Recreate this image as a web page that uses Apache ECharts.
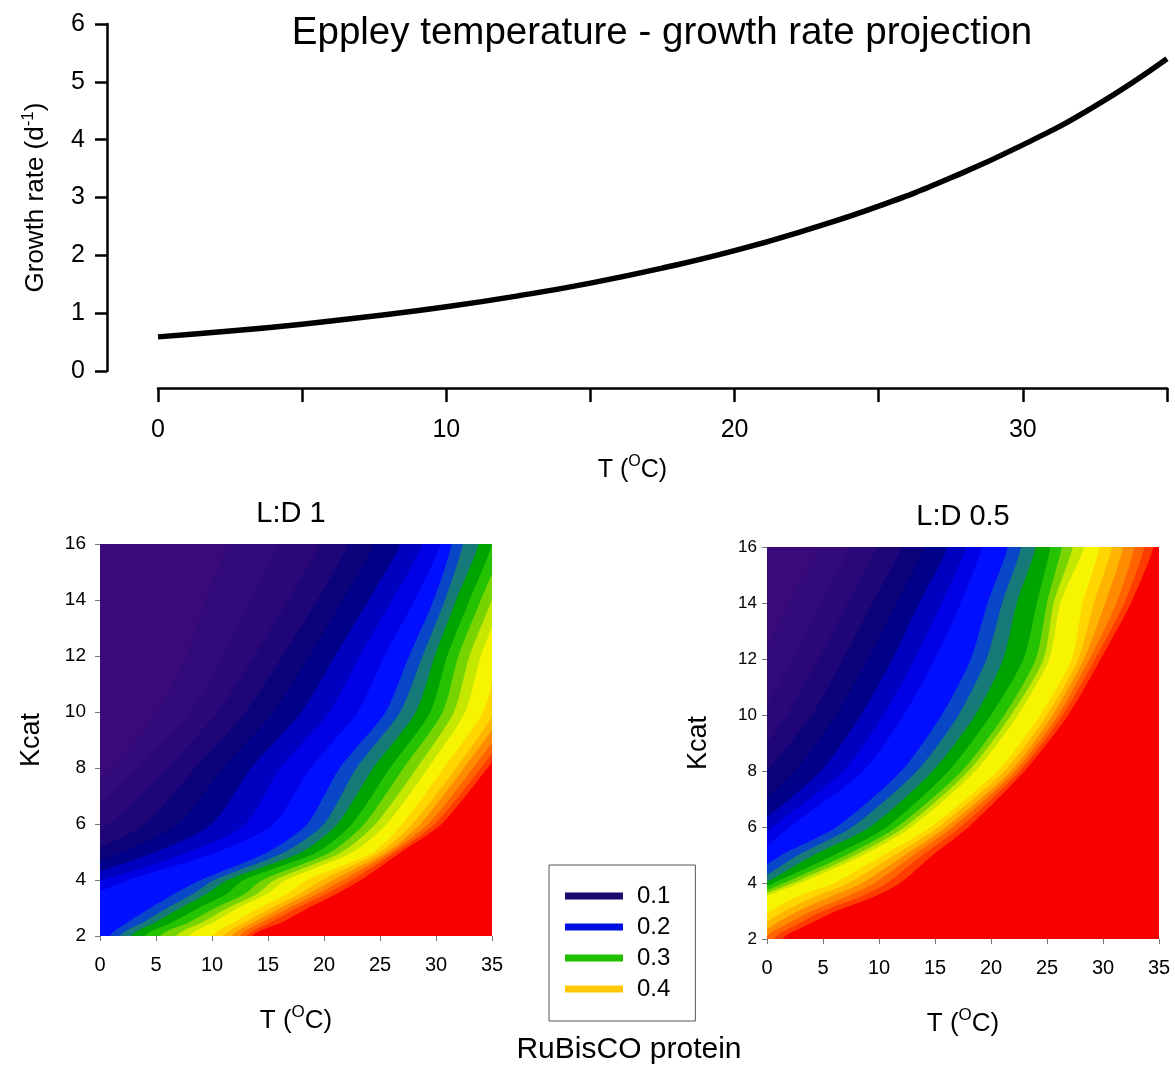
<!DOCTYPE html>
<html>
<head>
<meta charset="utf-8">
<script src="https://cdn.jsdelivr.net/npm/echarts@6/dist/echarts.min.js"></script>
<style>
html,body{margin:0;padding:0;background:#fff;}
#chart{width:1175px;height:1068px;}
</style>
</head>
<body>
<div id="chart"></div>
<script>
// ---------- Top panel: Eppley growth curve ----------
const eppleyTemps = [0, 2.5, 5, 7.5, 10, 12.5, 15, 17.5, 20, 22.5, 25, 27.5, 30, 32.5, 35];
const eppleyGrowth = [0.59, 0.69, 0.81, 0.95, 1.11, 1.30, 1.52, 1.78, 2.08, 2.44, 2.85, 3.34, 3.91, 4.58, 5.40];
const growthTicks = [0, 1, 2, 3, 4, 5, 6];
const tempTicksTop = [0, 10, 20, 30];

// ---------- Bottom panels: contour boundaries ----------
// Kcat rows at which the temperature of each contour boundary was read
const kcatRows = [2, 2.5, 3, 3.5, 4, 5, 6, 8, 10, 12, 14, 16];
// band colours, lowest (top-left) to highest (bottom-right)
const bandColors = ['#3b0a7a', '#330a7a', '#2a0878', '#1e0678', '#0c027a', '#000088', '#0000c0',
  '#0000e6', '#0010ff', '#0a46c8', '#157a78', '#00a400', '#24c200', '#78d400', '#c6e800',
  '#f6f400', '#ffd600', '#ffb400', '#ff8c00', '#ff6400', '#ff3c00', '#f80000'];

// L:D 1 — temperature (°C) of boundary i (band i -> band i+1) at each Kcat row
const ld1Bounds = [
  [-26, -23, -20, -17, -14, -9, -5, 1.0, 5.0, 7.7, 9.4, 11.3],
  [-24, -21, -18, -15, -12, -7, -2.5, 3.5, 8.0, 11.0, 13.5, 15.8],
  [-22, -19, -16, -13, -10, -4, 0.8, 6.0, 10.5, 13.8, 16.8, 19.6],
  [-20, -17, -14, -11, -8, -1, 4.0, 8.5, 13.0, 16.3, 19.4, 22.1],
  [-18, -15, -12, -9, -5, 2.0, 7.0, 11.0, 15.5, 18.7, 21.7, 24.4],
  [-16, -13, -10, -7, -2.5, 5.0, 10.0, 13.5, 18.0, 21.0, 24.0, 26.8],
  [-14, -11, -8, -5, 0.3, 8.0, 13.0, 16.1, 20.5, 23.2, 26.1, 28.8],
  [-7, -5, -3, -0.5, 2.5, 10.5, 15.5, 18.8, 23.0, 25.4, 28.1, 30.4],
  [0.9, 2.5, 4.5, 6.6, 9.0, 15.0, 18.5, 21.4, 25.5, 27.6, 29.8, 31.4],
  [1.8, 3.9, 6.0, 8.3, 10.2, 16.5, 20.0, 22.9, 26.8, 28.8, 30.8, 32.4],
  [2.8, 5.0, 7.2, 9.5, 11.4, 18.0, 21.2, 24.4, 28.2, 29.9, 31.8, 33.8],
  [4.0, 6.5, 8.8, 11.3, 12.8, 19.4, 22.5, 25.9, 29.5, 31.0, 33.0, 35.0],
  [5.4, 8.0, 10.3, 12.9, 14.5, 20.6, 23.6, 27.1, 30.6, 32.0, 34.0, 36.0],
  [6.8, 9.2, 11.4, 14.0, 15.6, 21.6, 24.6, 28.3, 31.6, 33.0, 35.0, 37.0],
  [8.0, 10.2, 12.3, 14.9, 16.6, 22.6, 25.6, 29.3, 32.6, 34.0, 36.0, 38.0],
  [10.0, 12.0, 14.2, 16.7, 18.5, 24.4, 27.0, 30.7, 34.2, 35.6, 37.5, 39.5],
  [11.0, 13.0, 15.3, 17.8, 19.8, 25.0, 27.9, 31.8, 35.2, 36.6, 38.5, 40.5],
  [11.8, 13.8, 16.1, 18.6, 20.8, 25.6, 28.6, 32.5, 36.0, 37.5, 39.4, 41.4],
  [12.5, 14.5, 16.9, 19.4, 21.7, 26.0, 29.3, 33.3, 36.8, 38.4, 40.3, 42.3],
  [13.1, 15.3, 17.6, 20.2, 22.5, 26.4, 29.9, 34.0, 37.6, 39.3, 41.2, 43.2],
  [13.6, 16.3, 18.6, 21.1, 23.3, 26.9, 30.5, 34.6, 38.5, 40.3, 42.2, 44.2]
];

// L:D 0.5
const ld05Bounds = [
  [-30, -28, -26, -24, -22, -18, -14, -8, -3.5, -0.5, 2.0, 4.5],
  [-26, -24, -22, -20, -18, -14, -10, -4, -0.5, 2.2, 4.8, 7.4],
  [-23, -21, -19, -17, -15, -11, -7, -2, 1.8, 4.6, 7.2, 9.8],
  [-20, -18, -16, -14, -12, -8, -4.5, 0.0, 4.0, 6.8, 9.4, 12.0],
  [-18, -16, -14, -12, -10, -6, -3, 2.5, 6.2, 9.0, 11.6, 14.0],
  [-16, -14, -12, -10, -8, -4, -1, 4.8, 8.4, 11.2, 13.6, 16.1],
  [-14, -12, -10, -8, -6, -2.5, 0.5, 6.8, 10.4, 13.2, 15.6, 17.8],
  [-12, -10, -8, -6, -4, -1, 2.0, 8.6, 12.2, 15.0, 17.3, 19.2],
  [-11, -9, -7, -5, -2.5, 1.3, 6.2, 12.0, 15.6, 18.2, 19.7, 21.5],
  [-10, -8, -6, -4, -1.2, 2.8, 7.6, 13.4, 17.1, 19.6, 21.0, 22.7],
  [-9, -7, -5, -3, -0.2, 4.2, 9.2, 14.8, 18.6, 21.1, 22.3, 24.0],
  [-8, -6, -4.2, -2.2, 0.6, 6.0, 10.7, 16.2, 20.0, 22.9, 24.1, 25.3],
  [-7, -5.2, -3.6, -1.4, 1.5, 7.1, 11.6, 17.4, 21.2, 24.0, 25.0, 26.3],
  [-6, -4.5, -3.0, -0.8, 2.3, 7.9, 12.3, 18.0, 21.8, 24.7, 25.6, 27.3],
  [-5, -3.8, -2.5, -0.3, 3.0, 8.6, 12.9, 18.6, 22.4, 25.2, 26.2, 28.3],
  [-3, -1.2, 0.4, 2.6, 6.0, 10.4, 14.6, 20.6, 24.4, 27.2, 28.2, 29.7],
  [-2, -0.4, 1.6, 4.2, 7.3, 11.4, 15.3, 21.2, 25.0, 27.8, 29.2, 30.8],
  [-1, 0.6, 2.8, 5.6, 8.5, 12.3, 16.0, 21.8, 25.5, 28.3, 30.2, 31.8],
  [-0.2, 1.6, 4.0, 7.0, 9.6, 13.1, 16.6, 22.2, 26.0, 28.8, 31.2, 32.8],
  [0.6, 2.6, 5.0, 8.3, 10.7, 13.9, 17.3, 22.6, 26.4, 29.3, 31.9, 33.7],
  [1.4, 3.6, 6.2, 9.5, 11.9, 14.8, 18.0, 23.0, 26.9, 29.8, 32.5, 34.5]
];

// legend levels (RuBisCO protein)
const legendLevels = ['0.1', '0.2', '0.3', '0.4'];
const legendColors = ['#1c0a70', '#0010e0', '#20c000', '#ffc800'];

const FONT = 'Liberation Sans, Arial, Helvetica, sans-serif';

function tName(size, sup) {
  return {
    name: '{t|T (}{s|O}{t|C)}',
    rich: {
      t: { fontSize: size, lineHeight: size + 8, color: '#000', fontFamily: FONT },
      s: { fontSize: sup, lineHeight: sup, verticalAlign: 'top', color: '#000', fontFamily: FONT }
    }
  };
}

function contourSeries(bounds, idx) {
  const firstK = kcatRows[0];
  const lastK = kcatRows[kcatRows.length - 1];
  return {
    type: 'custom',
    xAxisIndex: idx,
    yAxisIndex: idx,
    clip: true,
    silent: true,
    z: 2,
    data: bounds.map((b, i) => [b[b.length - 1], lastK, i]),
    encode: { x: 0, y: 1 },
    renderItem: function (params, api) {
      const i = params.dataIndex;
      const b = bounds[i];
      // boundary, extended straight past the plot edges
      const pts = [api.coord([b[0], firstK - 1])];
      b.forEach((t, k) => pts.push(api.coord([t, kcatRows[k]])));
      pts.push(api.coord([b[b.length - 1], lastK + 1]));
      pts.push(api.coord([90, lastK + 1]));
      pts.push(api.coord([90, firstK - 1]));
      return {
        type: 'polygon',
        shape: { points: pts, smooth: 0.25 },
        style: { fill: bandColors[i + 1], stroke: null }
      };
    }
  };
}

const bottomXAxis = (gi, nameGap, margin) => {
  const n = tName(26, 17);
  return {
    type: 'value', gridIndex: gi, min: 0, max: 35, interval: 5,
    axisLine: { show: false, onZero: false },
    axisTick: { show: true, length: 5, lineStyle: { color: '#777', width: 1 } },
    axisLabel: { fontSize: 20, color: '#000', margin: margin, fontFamily: FONT },
    splitLine: { show: false },
    name: n.name, nameLocation: 'middle', nameGap: nameGap,
    nameTextStyle: { rich: n.rich }
  };
};
const bottomYAxis = (gi, labelSize, margin) => ({
  type: 'value', gridIndex: gi, min: 2, max: 16, interval: 2,
  axisLine: { show: false, onZero: false },
  axisTick: { show: true, length: 5, lineStyle: { color: '#777', width: 1 } },
  axisLabel: { fontSize: labelSize, color: '#000', margin: margin, fontFamily: FONT },
  splitLine: { show: false },
  name: 'Kcat', nameLocation: 'middle', nameRotate: 90, nameGap: 55,
  nameTextStyle: { fontSize: 27, color: '#000', fontFamily: FONT }
});

const topX = tName(25, 16);

const option = {
  animation: false,
  backgroundColor: '#fff',
  textStyle: { fontFamily: FONT },
  title: [
    { text: 'Eppley temperature - growth rate projection', left: 662, top: 14, textAlign: 'center', padding: 0,
      textStyle: { fontSize: 38.5, fontWeight: 'normal', color: '#000', fontFamily: FONT } },
    { text: 'L:D 1', left: 291, top: 499, textAlign: 'center', padding: 0,
      textStyle: { fontSize: 29, fontWeight: 'normal', color: '#000', fontFamily: FONT } },
    { text: 'L:D 0.5', left: 963, top: 502, textAlign: 'center', padding: 0,
      textStyle: { fontSize: 29, fontWeight: 'normal', color: '#000', fontFamily: FONT } },
    { text: 'RuBisCO protein', left: 629, top: 1035, textAlign: 'center', padding: 0,
      textStyle: { fontSize: 30, fontWeight: 'normal', color: '#000', fontFamily: FONT } }
  ],
  legend: {
    data: legendLevels,
    orient: 'vertical',
    left: 549, top: 865,
    padding: [18, 25, 19, 16],
    itemWidth: 58, itemHeight: 7, itemGap: 5,
    icon: 'rect',
    borderColor: '#555', borderWidth: 1,
    selectedMode: false,
    textStyle: { fontSize: 24, lineHeight: 26, color: '#000', padding: [0, 0, 0, 9], fontFamily: FONT }
  },
  grid: [
    { left: 158, right: 8, top: 24, bottom: 697 },
    { left: 100, right: 683, top: 544, bottom: 132, show: true, backgroundColor: bandColors[0], borderWidth: 0 },
    { left: 767, right: 16, top: 547, bottom: 129, show: true, backgroundColor: bandColors[0], borderWidth: 0 }
  ],
  xAxis: [
    {
      type: 'value', gridIndex: 0, min: 0, max: 35, interval: 5, offset: 17,
      axisLine: { show: true, onZero: false, lineStyle: { color: '#000', width: 2.5 } },
      axisTick: { show: true, length: 14, lineStyle: { color: '#000', width: 2.5 } },
      axisLabel: { fontSize: 25, color: '#000', margin: 30, fontFamily: FONT,
        formatter: v => (tempTicksTop.indexOf(v) >= 0 ? String(v) : '') },
      splitLine: { show: false },
      name: topX.name, nameLocation: 'middle', nameGap: 66,
      nameTextStyle: { rich: topX.rich, padding: [0, 60, 0, 0] }
    },
    bottomXAxis(1, 68, 19),
    bottomXAxis(2, 68, 19)
  ],
  yAxis: [
    {
      type: 'value', gridIndex: 0, min: growthTicks[0], max: growthTicks[growthTicks.length - 1], interval: 1, offset: 51,
      axisLine: { show: true, onZero: false, lineStyle: { color: '#000', width: 2.5 } },
      axisTick: { show: true, length: 12, lineStyle: { color: '#000', width: 2.5 } },
      axisLabel: { fontSize: 25, color: '#000', margin: 22, fontFamily: FONT },
      splitLine: { show: false },
      name: '{a|Growth rate (d}{b|-1}{a|)}', nameLocation: 'middle', nameRotate: 90, nameGap: 55,
      nameTextStyle: {
        rich: {
          a: { fontSize: 26, lineHeight: 32, color: '#000', fontFamily: FONT },
          b: { fontSize: 17, lineHeight: 17, verticalAlign: 'top', color: '#000', fontFamily: FONT }
        }
      }
    },
    bottomYAxis(1, 19, 14),
    bottomYAxis(2, 17, 10)
  ],
  series: [
    {
      type: 'line', xAxisIndex: 0, yAxisIndex: 0,
      data: eppleyTemps.map((t, i) => [t, eppleyGrowth[i]]),
      smooth: true, showSymbol: false,
      lineStyle: { color: '#000', width: 5.5 },
      z: 5
    },
    contourSeries(ld1Bounds, 1),
    contourSeries(ld05Bounds, 2)
  ].concat(legendLevels.map((name, i) => ({
    name: name, type: 'line', xAxisIndex: 0, yAxisIndex: 0, data: [],
    itemStyle: { color: legendColors[i] }, lineStyle: { color: legendColors[i] }
  })))
};

const chart = echarts.init(document.getElementById('chart'), null, { renderer: 'canvas' });
chart.setOption(option);
</script>
</body>
</html>
